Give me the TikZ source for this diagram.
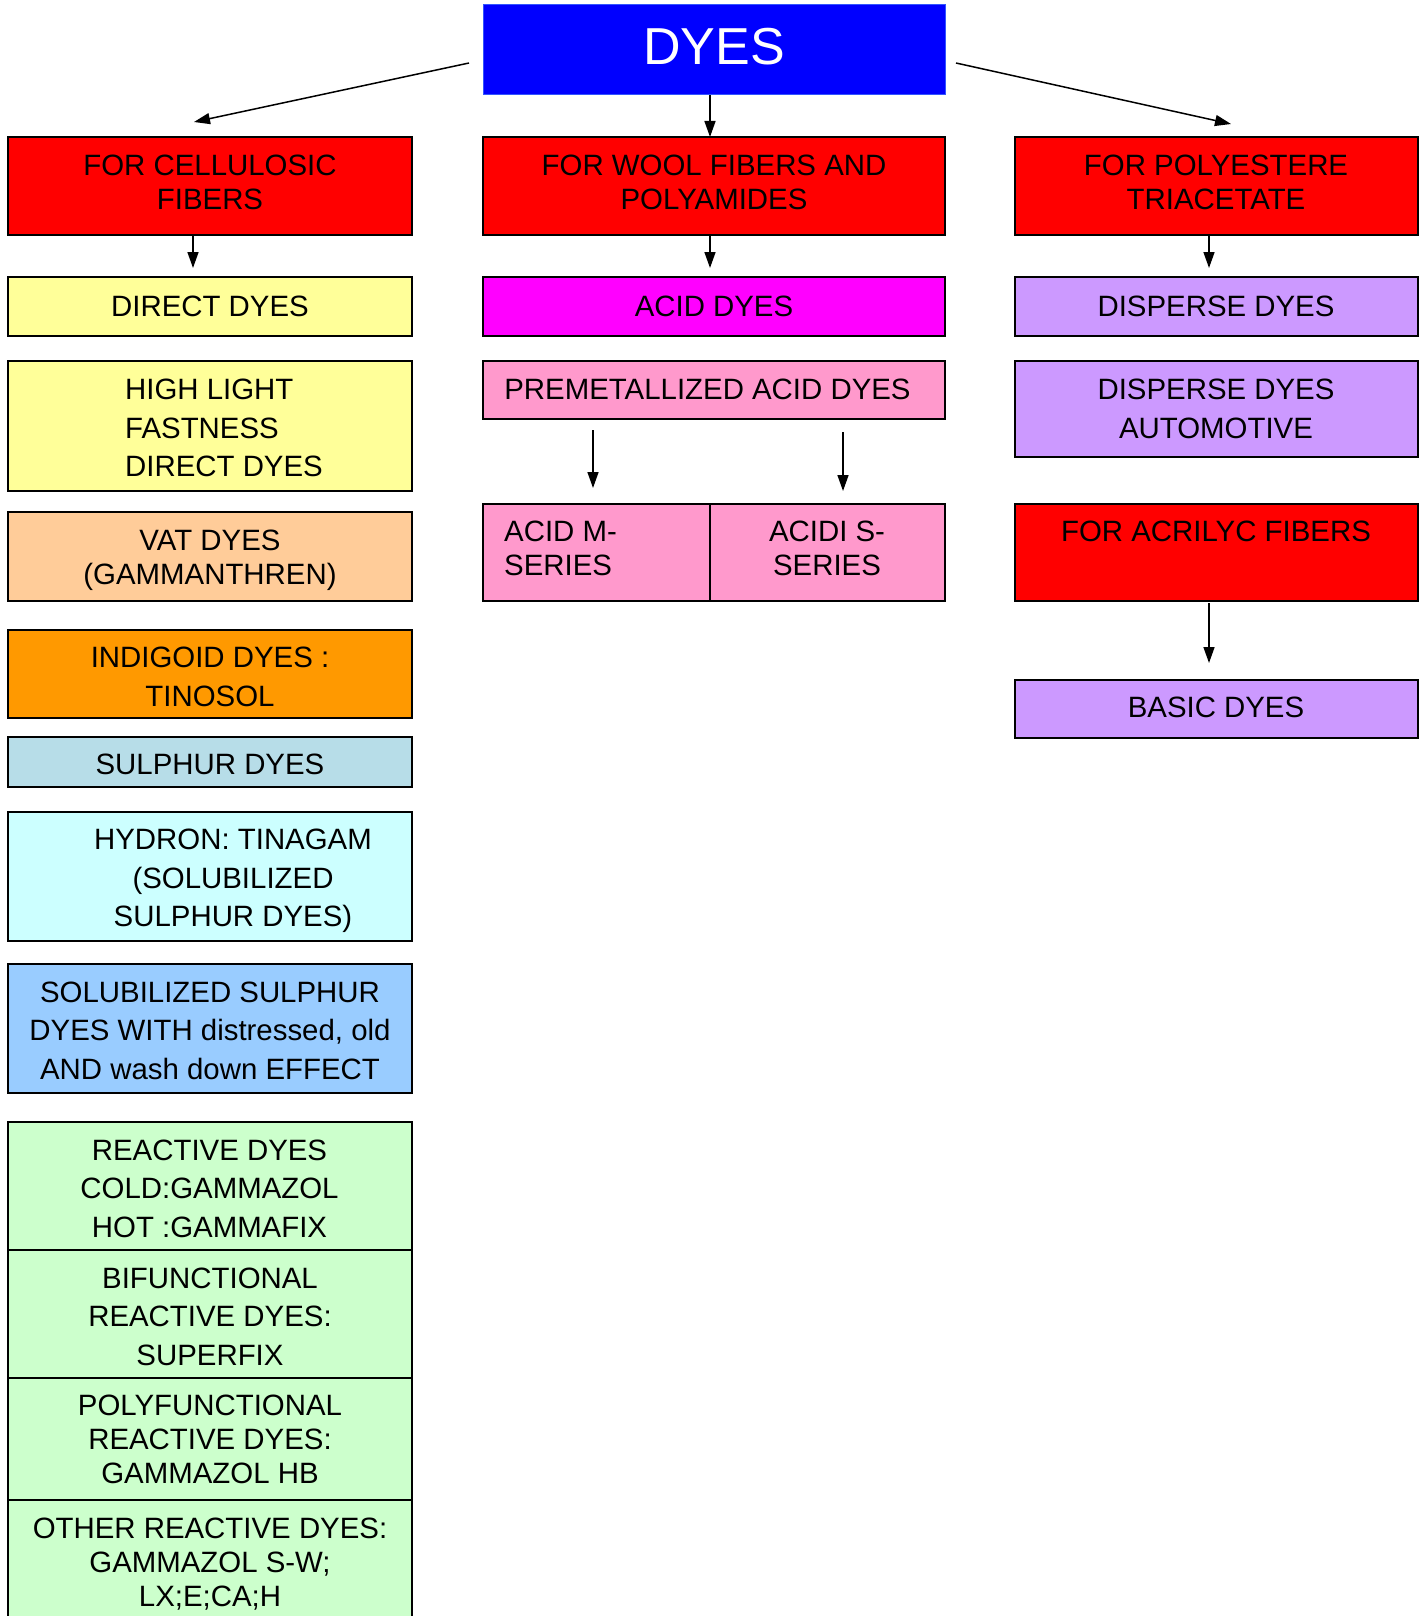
\documentclass[tikz,border=0pt]{standalone}
\usepackage{fontspec}
\setmainfont{Liberation Sans}
\usetikzlibrary{arrows.meta}
\definecolor{cBlue}{HTML}{0000FF}
\definecolor{cBlueLine}{HTML}{3355FF}
\definecolor{cRed}{HTML}{FF0000}
\definecolor{cYellow}{HTML}{FFFF99}
\definecolor{cMagenta}{HTML}{FF00FF}
\definecolor{cViolet}{HTML}{CC99FF}
\definecolor{cPink}{HTML}{FF99CC}
\definecolor{cPeach}{HTML}{FFCC99}
\definecolor{cOrange}{HTML}{FF9900}
\definecolor{cSulph}{HTML}{B7DDE8}
\definecolor{cCyan}{HTML}{CCFFFF}
\definecolor{cSky}{HTML}{99CCFF}
\definecolor{cGreen}{HTML}{CCFFCC}
\tikzset{
  box/.style={draw=black, line width=1.8pt, anchor=north west, inner sep=0pt, outer sep=0pt},
  txtw/.style={anchor=north, inner sep=0pt, align=center, font=\fontsize{29.4}{38.5}\selectfont},
  txtn/.style={anchor=north, inner sep=0pt, align=center, font=\fontsize{29.4}{34}\selectfont},
  arr/.style={line width=1.5pt, -{Triangle[length=16pt,width=11pt]}},
}
\begin{document}
\begin{tikzpicture}[x=1pt,y=-1pt]
\useasboundingbox (0,0) rectangle (1427,1616);
\clip (0,0) rectangle (1427,1616);
% boxes
\node[box, draw=cBlueLine, line width=1pt, fill=cBlue, minimum width=462pt, minimum height=90pt] (dyes) at (483,5) {};
\node[box, fill=cRed, minimum width=404pt, minimum height=98pt] (cell) at (8,137) {};
\node[box, fill=cRed, minimum width=462pt, minimum height=98pt] (wool) at (483,137) {};
\node[box, fill=cRed, minimum width=403pt, minimum height=98pt] (poly) at (1015,137) {};
\node[box, fill=cYellow, minimum width=404pt, minimum height=59pt] (direct) at (8,277) {};
\node[box, fill=cMagenta, minimum width=462pt, minimum height=59pt] (acid) at (483,277) {};
\node[box, fill=cViolet, minimum width=403pt, minimum height=59pt] (disp) at (1015,277) {};
\node[box, fill=cYellow, minimum width=404pt, minimum height=130pt] (high) at (8,361) {};
\node[box, fill=cPink, minimum width=462pt, minimum height=58pt] (premet) at (483,361) {};
\node[box, fill=cViolet, minimum width=403pt, minimum height=96pt] (dispauto) at (1015,361) {};
\node[box, fill=cPeach, minimum width=404pt, minimum height=89pt] (vat) at (8,512) {};
\node[box, fill=cPink, minimum width=227pt, minimum height=97pt] (acidm) at (483,504) {};
\node[box, fill=cPink, minimum width=235pt, minimum height=97pt] (acids) at (710,504) {};
\node[box, fill=cRed, minimum width=403pt, minimum height=97pt] (acryl) at (1015,504) {};
\node[box, fill=cOrange, minimum width=404pt, minimum height=88pt] (indigo) at (8,630) {};
\node[box, fill=cSulph, minimum width=404pt, minimum height=50pt] (sulph) at (8,737) {};
\node[box, fill=cViolet, minimum width=403pt, minimum height=58pt] (basic) at (1015,680) {};
\node[box, fill=cCyan, minimum width=404pt, minimum height=129pt] (hydron) at (8,812) {};
\node[box, fill=cSky, minimum width=404pt, minimum height=129pt] (solub) at (8,964) {};
\node[box, fill=cGreen, minimum width=404pt, minimum height=128pt] (react) at (8,1122) {};
\node[box, fill=cGreen, minimum width=404pt, minimum height=128pt] (bifun) at (8,1250) {};
\node[box, fill=cGreen, minimum width=404pt, minimum height=122pt] (polyf) at (8,1378) {};
\node[box, fill=cGreen, minimum width=404pt, minimum height=140pt] (other) at (8,1500) {};
% texts
\node[anchor=north, inner sep=0pt, text=white, font=\fontsize{52}{60}\selectfont] (tdyes) at (714,28) {DYES};
\node[txtn] (tcell) at (210,155) {FOR CELLULOSIC\\FIBERS};
\node[txtn] (twool) at (714,155) {FOR WOOL FIBERS AND\\POLYAMIDES};
\node[txtn] (tpoly) at (1216,155) {FOR POLYESTERE\\TRIACETATE};
\node[txtn] (tdirect) at (210,295.5) {DIRECT DYES};
\node[txtn] (tacid) at (714,295.5) {ACID DYES};
\node[txtn] (tdisp) at (1216,295.5) {DISPERSE DYES};
\node[txtw, anchor=north west, align=left] (thigh) at (125,379) {HIGH LIGHT\\FASTNESS\\DIRECT DYES};
\node[txtn] (tpremet) at (707.5,379) {PREMETALLIZED ACID DYES};
\node[txtw] (tdispauto) at (1216,379) {DISPERSE DYES\\AUTOMOTIVE};
\node[txtn] (tvat) at (210,529.5) {VAT DYES\\(GAMMANTHREN)};
\node[txtn, anchor=north west, align=left] (tacidm) at (504,521) {ACID M-\\SERIES};
\node[txtn] (tacids) at (827,521) {ACIDI S-\\SERIES};
\node[txtn] (tacryl) at (1216,521) {FOR ACRILYC FIBERS};
\node[txtw] (tindigo) at (210,647) {INDIGOID DYES :\\TINOSOL};
\node[txtn] (tsulph) at (210,754) {SULPHUR DYES};
\node[txtn] (tbasic) at (1216,697) {BASIC DYES};
\node[txtw] (thydron) at (233,829) {HYDRON: TINAGAM\\(SOLUBILIZED\\SULPHUR DYES)};
\node[txtw] (tsolub) at (210,981.5) {SOLUBILIZED SULPHUR\\DYES WITH distressed, old\\AND wash down EFFECT};
\node[txtw] (treact) at (209.5,1139.5) {REACTIVE DYES\\COLD:GAMMAZOL\\HOT :GAMMAFIX};
\node[txtw] (tbifun) at (210,1267.5) {BIFUNCTIONAL\\REACTIVE DYES:\\SUPERFIX};
\node[txtn] (tpolyf) at (210,1395) {POLYFUNCTIONAL\\REACTIVE DYES:\\GAMMAZOL HB};
\node[txtn] (tother) at (210,1517.5) {OTHER REACTIVE DYES:\\GAMMAZOL S-W;\\LX;E;CA;H};
% connector coordinates
\coordinate (aL1) at (469,63);
\coordinate (aL2) at (194,122);
\coordinate (aR1) at (956,63);
\coordinate (aR2) at (1231,124);
\coordinate (xm) at (710,0);
\coordinate (xl) at (193,0);
\coordinate (xr) at (1209,0);
\coordinate (p1a) at (593,430);
\coordinate (p1b) at (593,488);
\coordinate (p2a) at (843,432);
\coordinate (p2b) at (843,491);
\coordinate (r1a) at (1209,603);
\coordinate (r1b) at (1209,663);
\coordinate (l2) at (193,268);
\coordinate (m2) at (710,268);
\coordinate (r2) at (1209,268);
% connectors
\draw[arr] (aL1) -- (aL2);
\draw[arr] (aR1) -- (aR2);
\draw[arr] (dyes.south -| xm) -- (wool.north -| xm);
\draw[arr] (cell.south -| xl) -- (l2);
\draw[arr] (wool.south -| xm) -- (m2);
\draw[arr] (poly.south -| xr) -- (r2);
\draw[arr] (p1a) -- (p1b);
\draw[arr] (p2a) -- (p2b);
\draw[arr] (r1a) -- (r1b);
\end{tikzpicture}
\end{document}
